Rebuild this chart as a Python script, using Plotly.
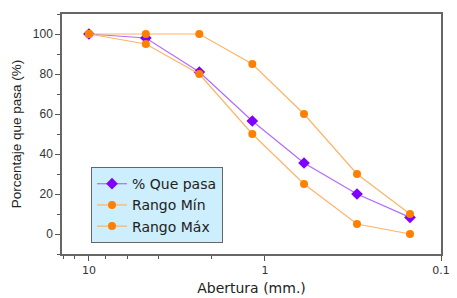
import plotly.graph_objects as go

aberturas = [10, 4.75, 2.36, 1.18, 0.6, 0.3, 0.15]
que_pasa = [100, 98, 81, 56.5, 35.5, 20, 8.3]
rango_min = [100, 95, 80, 50, 25, 5, 0]
rango_max = [100, 100, 100, 85, 60, 30, 10]
x_ticks = [10, 1, 0.1]
x_tick_labels = ["10", "1", "0.1"]

fig = go.Figure()
fig.add_trace(go.Scatter(x=aberturas, y=que_pasa, mode="lines+markers", name="% Que pasa",
                         line=dict(color="#b26bff", width=1.2),
                         marker=dict(symbol="diamond", size=9, color="#7f00ff")))
fig.add_trace(go.Scatter(x=aberturas, y=rango_min, mode="lines+markers", name="Rango Mín",
                         line=dict(color="#ffb366", width=1.2),
                         marker=dict(symbol="circle", size=8, color="#ff8000")))
fig.add_trace(go.Scatter(x=aberturas, y=rango_max, mode="lines+markers", name="Rango Máx",
                         line=dict(color="#ffb366", width=1.2),
                         marker=dict(symbol="circle", size=8, color="#ff8000")))

fig.update_layout(
    width=457, height=298,
    margin=dict(l=62, r=16, t=14, b=44),
    paper_bgcolor="white", plot_bgcolor="white",
    showlegend=True,
    legend=dict(x=0.0765, y=0.362, xanchor="left", yanchor="top",
                bgcolor="#cdeefc", bordercolor="#666666", borderwidth=1,
                font=dict(family="DejaVu Sans", size=14, color="#222222"),
                tracegroupgap=0, itemwidth=30),
    xaxis=dict(type="log", range=[1.153, -1], tickvals=x_ticks, ticktext=x_tick_labels,
               automargin=False,
               ticks="outside", ticklen=5, tickcolor="#555555",
               showline=True, linecolor="#666666", linewidth=1.5, mirror=True,
               showgrid=False, zeroline=False,
               minor=dict(ticks="outside", ticklen=3, tickcolor="#555555", showgrid=False),
               tickfont=dict(family="DejaVu Sans", size=11, color="#333333"),
               title=dict(text="Abertura (mm.)", font=dict(family="DejaVu Sans", size=14, color="#222222"),
                          standoff=7)),
    yaxis=dict(range=[-10, 110], tickvals=[0, 20, 40, 60, 80, 100],
               automargin=False,
               ticks="outside", ticklen=5, tickcolor="#555555",
               showline=True, linecolor="#666666", linewidth=1.5, mirror=True,
               showgrid=False, zeroline=False,
               minor=dict(ticks="outside", ticklen=3, dtick=10, tickcolor="#555555", showgrid=False),
               tickfont=dict(family="Liberation Sans", size=12, color="#333333"),
               title=dict(text="Porcentaje que pasa (%)", font=dict(family="Liberation Sans", size=13.5, color="#222222"),
                          standoff=8)),
)

fig.write_html("out.html", config={"displayModeBar": False},
               post_script="document.body.style.margin='0';")
